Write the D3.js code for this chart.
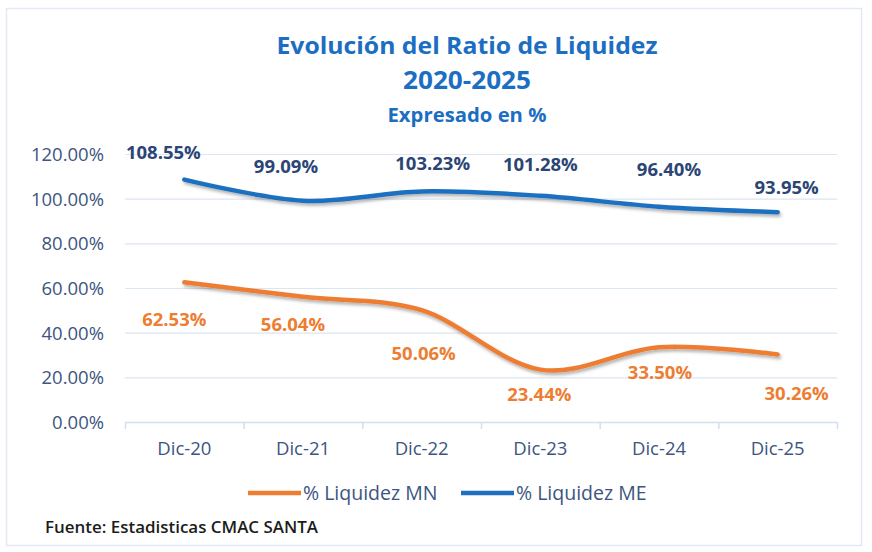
<!DOCTYPE html>
<html>
<head>
<meta charset="utf-8">
<script src="https://cdn.jsdelivr.net/npm/d3@7"></script>
<style>
  html, body { margin: 0; padding: 0; background: #ffffff; }
  svg { display: block; }
  text { font-family: "Open Sans", "Noto Sans", sans-serif; }
</style>
</head>
<body>
<svg id="chart" width="872" height="552"></svg>
<script>
// ---- data ----
const categories = ["Dic-20", "Dic-21", "Dic-22", "Dic-23", "Dic-24", "Dic-25"];
const liquidezMN = [62.53, 56.04, 50.06, 23.44, 33.50, 30.26];
const liquidezME = [108.55, 99.09, 103.23, 101.28, 96.40, 93.95];
const yTicks = [0, 20, 40, 60, 80, 100, 120];
const seriesNames = ["% Liquidez MN", "% Liquidez ME"];
const titleLines = ["Evolución del Ratio de Liquidez", "2020-2025", "Expresado en %"];
const sourceNote = "Fuente: Estadisticas CMAC SANTA";

// ---- label placement (pixel offsets from each point, as dragged in the original) ----
const labelOffsetME = [[-21, -27], [-17, -34], [11, -28], [0, -31], [10, -37], [9, -25]];
const labelOffsetMN = [[-10, 37], [-10, 28], [2, 43], [-1, 25], [1, 25], [19, 39]];

const colMN = "#ED7D31", colME = "#1F6FC0";
const axisText = "#3D5580", labelME = "#2B4574", titleCol = "#1B6EC2";

const svg = d3.select("#chart");

// frame
svg.append("rect").attr("x", 6.5).attr("y", 8.5).attr("width", 855).attr("height", 537)
  .attr("fill", "#fff").attr("stroke", "#E2E9F4").attr("stroke-width", 1.5);

const defs = svg.append("defs");
const f = defs.append("filter").attr("id", "shadow").attr("x", "-10%").attr("y", "-50%")
  .attr("width", "120%").attr("height", "200%");
f.append("feDropShadow").attr("dx", 1.5).attr("dy", 2.5).attr("stdDeviation", 1.6)
  .attr("flood-color", "#000").attr("flood-opacity", 0.3);

const x = d3.scaleBand().domain(categories).range([125, 837]);
const y = d3.scaleLinear().domain([0, 120]).range([422, 154]);
const cx = c => x(c) + x.bandwidth() / 2;

// gridlines
svg.append("g").selectAll("line").data(yTicks.filter(t => t > 0)).join("line")
  .attr("x1", 125).attr("x2", 837)
  .attr("y1", d => y(d) + 0.5).attr("y2", d => y(d) + 0.5)
  .attr("stroke", "#DCE5F2").attr("stroke-width", 1.2);

// y axis labels
const yAxis = d3.axisLeft(y).tickValues(yTicks).tickSize(0).tickPadding(0)
  .tickFormat(d => d.toFixed(2) + "%");
const gy = svg.append("g").attr("transform", "translate(104,0)").call(yAxis);
gy.select(".domain").remove();
gy.selectAll("text").attr("fill", axisText).attr("font-size", 18.5)
  .attr("font-family", "'Open Sans', sans-serif").attr("dy", "0.35em");

// x axis
const xAxis = d3.axisBottom(x).tickSize(0).tickPadding(20);
const gx = svg.append("g").attr("transform", "translate(0,422)").call(xAxis);
gx.select(".domain").attr("stroke", "#D3DEEE").attr("stroke-width", 1.5).attr("d", "M125,0.5H837");
gx.selectAll("text").attr("fill", axisText).attr("font-size", 18.5)
  .attr("font-family", "'Open Sans', sans-serif");
// tick marks at category boundaries
const bounds = categories.map(c => x(c)).concat([x(categories[categories.length - 1]) + x.bandwidth()]);
gx.append("g").selectAll("line").data(bounds).join("line")
  .attr("x1", d => d + 0.5).attr("x2", d => d + 0.5).attr("y1", 0).attr("y2", 7)
  .attr("stroke", "#D3DEEE").attr("stroke-width", 1.5);

// lines
const line = d3.line().curve(d3.curveCardinal.tension(0));
function pts(vals) { return categories.map((c, i) => [cx(c), y(vals[i])]); }

svg.append("path").attr("d", line(pts(liquidezME))).attr("fill", "none")
  .attr("stroke", colME).attr("stroke-width", 4.5).attr("stroke-linecap", "round")
  .attr("filter", "url(#shadow)");
svg.append("path").attr("d", line(pts(liquidezMN))).attr("fill", "none")
  .attr("stroke", colMN).attr("stroke-width", 4.5).attr("stroke-linecap", "round")
  .attr("filter", "url(#shadow)");

// data labels
function labels(vals, offs, color) {
  svg.append("g").selectAll("text").data(vals).join("text")
    .attr("x", (d, i) => cx(categories[i]) + offs[i][0])
    .attr("y", (d, i) => y(d) + offs[i][1])
    .attr("dy", "0.35em").attr("text-anchor", "middle")
    .attr("font-size", 18.5).attr("font-weight", 700).attr("fill", color)
    .text(d => d.toFixed(2) + "%");
}
labels(liquidezME, labelOffsetME, labelME);
labels(liquidezMN, labelOffsetMN, colMN);

// title
const tSizes = [24, 25, 20];
const tY = [54, 89, 122];
const tLen = [381, 128, 159];
titleLines.forEach((t, i) => {
  svg.append("text").attr("x", 467).attr("y", tY[i]).attr("text-anchor", "middle")
    .attr("font-size", tSizes[i]).attr("font-weight", 700).attr("fill", titleCol)
    .attr("textLength", tLen[i]).attr("lengthAdjust", "spacingAndGlyphs")
    .text(t);
});

// legend
const legend = svg.append("g");
const legItems = [{ name: seriesNames[0], color: colMN, x: 248 }, { name: seriesNames[1], color: colME, x: 461 }];
legItems.forEach(it => {
  legend.append("line").attr("x1", it.x).attr("x2", it.x + 53).attr("y1", 493).attr("y2", 493)
    .attr("stroke", it.color).attr("stroke-width", 4.5);
  legend.append("text").attr("x", it.x + 55).attr("y", 493).attr("dy", "0.35em")
    .attr("font-size", 19.5).attr("fill", axisText).text(it.name);
});

// source
svg.append("text").attr("x", 45).attr("y", 527).attr("dy", "0.35em")
  .attr("font-size", 16.5).attr("font-weight", 600).attr("fill", "#1c1c1c")
  .attr("textLength", 273).attr("lengthAdjust", "spacingAndGlyphs").text(sourceNote);
</script>
</body>
</html>
